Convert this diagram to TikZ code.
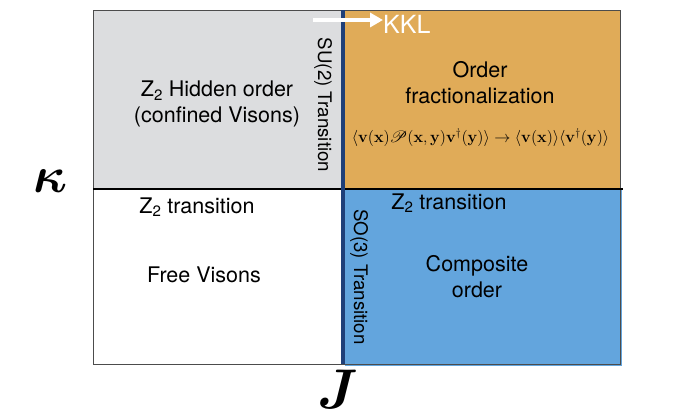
\documentclass[tikz,border=0pt]{standalone}
\usepackage{amsmath,bm,mathrsfs,graphicx}
\usepackage[no-math]{fontspec}
\usetikzlibrary{arrows.meta}
\newfontfamily\hv{TeX Gyre Heros}
\definecolor{hgray}{HTML}{DCDDDF}
\definecolor{horange}{HTML}{E0AB58}
\definecolor{hblue}{HTML}{63A5DD}
\definecolor{hnavy}{HTML}{1F3F78}
\tikzset{
  lbl/.style={font=\hv\fontsize{21.5}{26}\selectfont, align=center, inner sep=0pt},
  rlbl/.style={font=\hv\fontsize{18.7}{22}\selectfont, inner sep=0pt, rotate=-90},
  axislbl/.style={inner sep=0pt, font=\fontsize{24.88}{26}\selectfont},
}
\begin{document}
\begin{tikzpicture}[x=1pt,y=-1pt]
\useasboundingbox (0,0) rectangle (689,419);
% regions
\fill[hgray] (93,10) rectangle (341,189);
\fill[horange] (345,10) rectangle (620,189);
\fill[hblue] (345,189) rectangle (622,366);
\draw[line width=0.8pt, black!70] (93,10) rectangle (620,364);
\draw[line width=1.3pt] (93,189) -- (623,189);
\fill[hnavy] (341,10) rectangle (345,364);
% labels
\node[lbl] (hid) at (217,104) {Z\textsubscript{2} Hidden order\\(confined Visons)};
\node[lbl] (ord) at (480,83) {Order\\fractionalization};
\node[inner sep=0pt, font=\fontsize{14.4}{16}\selectfont] (form) at (480.5,138)
  {\scalebox{1.12}{$\langle \mathbf{v}(\mathbf{x})\mathscr{P}(\mathbf{x},\mathbf{y})\mathbf{v}^{\dagger}(\mathbf{y})\rangle \rightarrow \langle \mathbf{v}(\mathbf{x})\rangle\langle \mathbf{v}^{\dagger}(\mathbf{y})\rangle$}};
\node[lbl] (z2l) at (197,207) {Z\textsubscript{2} transition};
\node[lbl] (z2r) at (449,203) {Z\textsubscript{2} transition};
\node[lbl] (free) at (204,275) {Free Visons};
\node[lbl] (comp) at (477,277) {Composite\\order};
\node[rlbl] (su2) at (323,105) {SU(2) Transition};
\node[rlbl] (so3) at (359,277) {SO(3) Transition};
% KKL
\node[lbl, font=\hv\fontsize{25}{28}\selectfont, text=white, anchor=west] (kkl) at (383,24) {KKL};
\coordinate (kklstart) at (313,20);
\draw[white, line width=3.5pt, -{Triangle[length=13pt,width=14pt]}] (kklstart) -- (kkl.west |- kklstart);
% axes
\node[axislbl] (kappa) at (51,181) {\scalebox{2.05}{$\bm{\kappa}$}};
\node[axislbl] (J) at (338,389) {\scalebox{2.25}{$\bm{J}$}};
\end{tikzpicture}
\end{document}
